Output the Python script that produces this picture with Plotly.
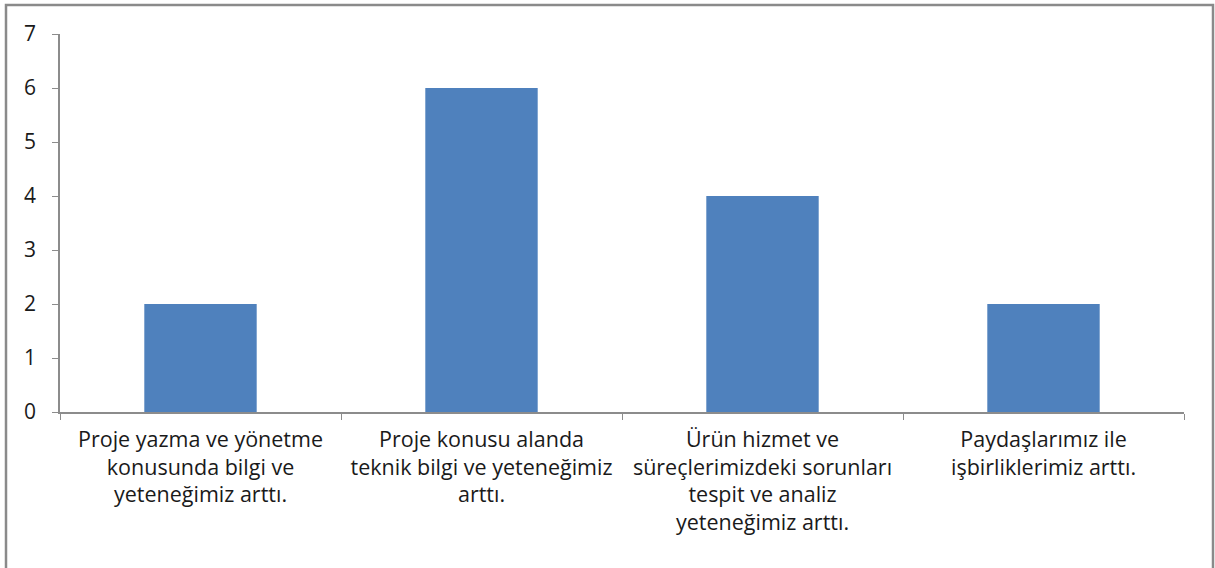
import plotly.graph_objects as go

# Survey outcome categories and response counts
categories = [
    "Proje yazma ve yönetme<br>konusunda bilgi ve<br>yeteneğimiz arttı.",
    "Proje konusu alanda<br>teknik bilgi ve yeteneğimiz<br>arttı.",
    "Ürün hizmet ve<br>süreçlerimizdeki sorunları<br>tespit ve analiz<br>yeteneğimiz arttı.",
    "Paydaşlarımız ile<br>işbirliklerimiz arttı.",
]
counts = [2, 6, 4, 2]
y_ticks = [0, 1, 2, 3, 4, 5, 6, 7]

W, H = 1215, 568
L, R, T, B = 60, 31, 34, 156
pw, ph = W - L - R, H - T - B

def px_x(x):
    return (x - L) / pw

def px_y(y):
    return (H - B - y) / ph

fig = go.Figure(
    go.Bar(
        x=categories,
        y=counts,
        marker=dict(color="#4F81BD", line=dict(width=0)),
        width=0.4,
    )
)

fig.update_layout(
    width=W,
    height=H,
    margin=dict(l=L, r=R, t=T, b=B),
    paper_bgcolor="white",
    plot_bgcolor="white",
    font=dict(family="Open Sans, sans-serif", size=21, color="#1A1A1A"),
    showlegend=False,
    bargap=0.6,
)

fig.update_xaxes(
    showline=True,
    linecolor="#8C8C8C",
    linewidth=1.5,
    ticks="outside",
    tickson="boundaries",
    ticklen=6,
    tickcolor="#8C8C8C",
    tickfont=dict(size=21.5, color="#1A1A1A"),
    ticklabelstandoff=7,
    showgrid=False,
)

fig.update_yaxes(
    range=[0, 7],
    tickvals=y_ticks,
    showline=True,
    linecolor="#8C8C8C",
    linewidth=1.5,
    ticks="outside",
    ticklen=6,
    tickcolor="#8C8C8C",
    tickfont=dict(size=21, color="#1A1A1A"),
    ticklabelstandoff=12,
    showgrid=False,
    zeroline=False,
)

# Outer frame around the chart area
fig.add_shape(
    type="rect",
    xref="paper",
    yref="paper",
    x0=px_x(6),
    x1=px_x(1213),
    y0=px_y(600),
    y1=px_y(5),
    line=dict(color="#8A8A8A", width=2.5),
    fillcolor="rgba(0,0,0,0)",
    layer="below",
)

fig.write_html("out.html")
